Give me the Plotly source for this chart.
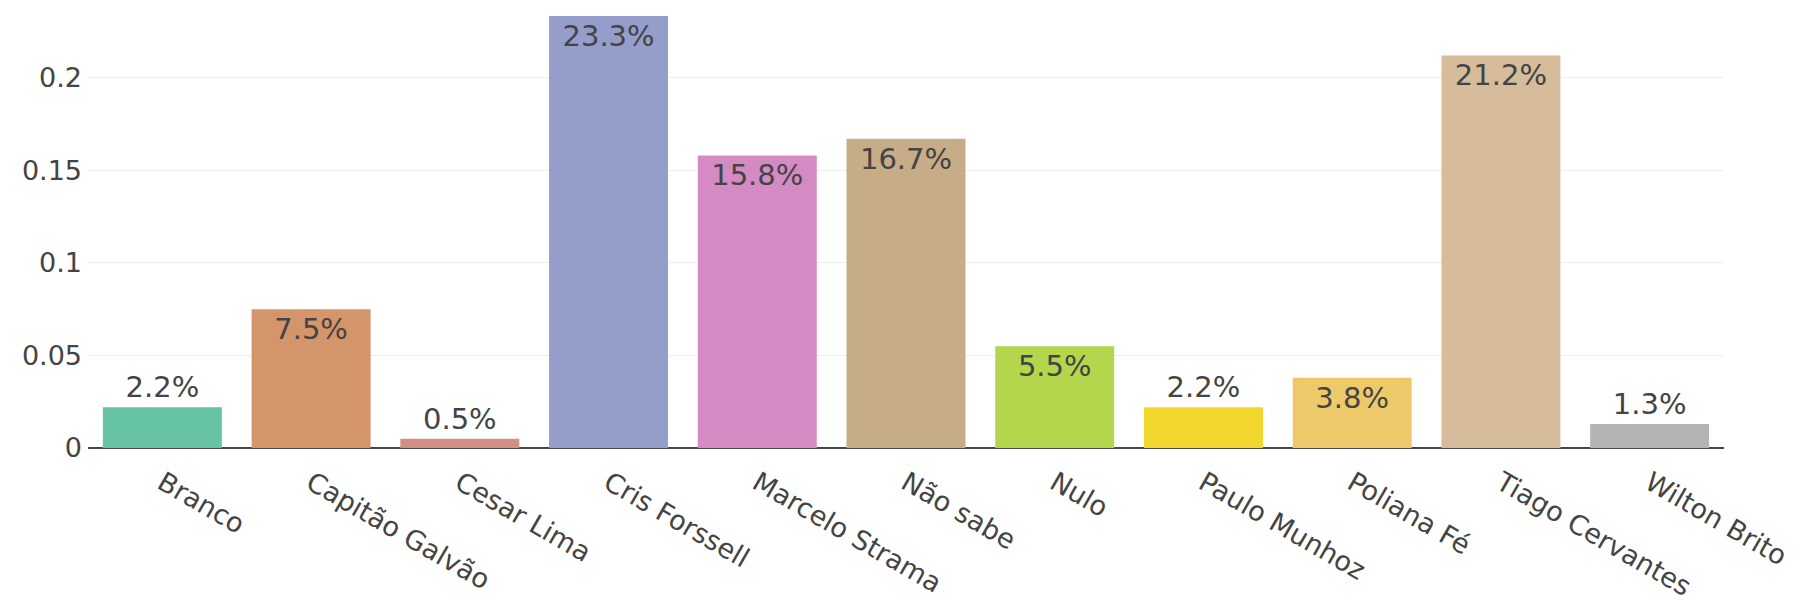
import plotly.graph_objects as go

categories = ["Branco", "Capitão Galvão", "Cesar Lima", "Cris Forssell", "Marcelo Strama",
              "Não sabe", "Nulo", "Paulo Munhoz", "Poliana Fé", "Tiago Cervantes", "Wilton Brito"]
values = [0.022, 0.075, 0.005, 0.2333, 0.158, 0.167, 0.055, 0.022, 0.038, 0.212, 0.013]
colors = ["#66c3a4", "#d4956a", "#d38f80", "#959dcb", "#d48ac3", "#c6ad87",
          "#b3d64c", "#f3d62d", "#eec96a", "#d6bc9a", "#b3b3b3"]
ytick_vals = [0, 0.05, 0.1, 0.15, 0.2]
ytick_text = ["0", "0.05", "0.1", "0.15", "0.2"]

text_pos = ["inside" if v > 0.03 else "outside" for v in values]

fig = go.Figure(go.Bar(
    x=categories, y=values,
    marker=dict(color=colors, line=dict(width=0)),
    texttemplate="%{y:.1%}",
    textposition=text_pos,
    textfont=dict(size=29, color="#444", family="DejaVu Sans"),
    insidetextanchor="end",
    cliponaxis=False,
))

fig.update_layout(
    width=1797, height=600,
    margin=dict(l=80, r=81, t=6, b=158),
    paper_bgcolor="white", plot_bgcolor="white",
    font=dict(family="DejaVu Sans", size=27, color="#444"),
    bargap=0.2,
    showlegend=False,
)
fig.update_xaxes(tickangle=30, showgrid=False, showline=False, ticks="",
                 ticklabelstandoff=13,
                 tickfont=dict(size=27, color="#444"))
fig.update_yaxes(range=[0, 0.2344], tickvals=ytick_vals, ticktext=ytick_text,
                 showgrid=True, gridcolor="#eeeeee", gridwidth=1,
                 zeroline=True, zerolinecolor="#444", zerolinewidth=2,
                 showline=False, ticks="", ticklabelstandoff=5,
                 tickfont=dict(size=27, color="#444"))

fig.write_html("out.html")
